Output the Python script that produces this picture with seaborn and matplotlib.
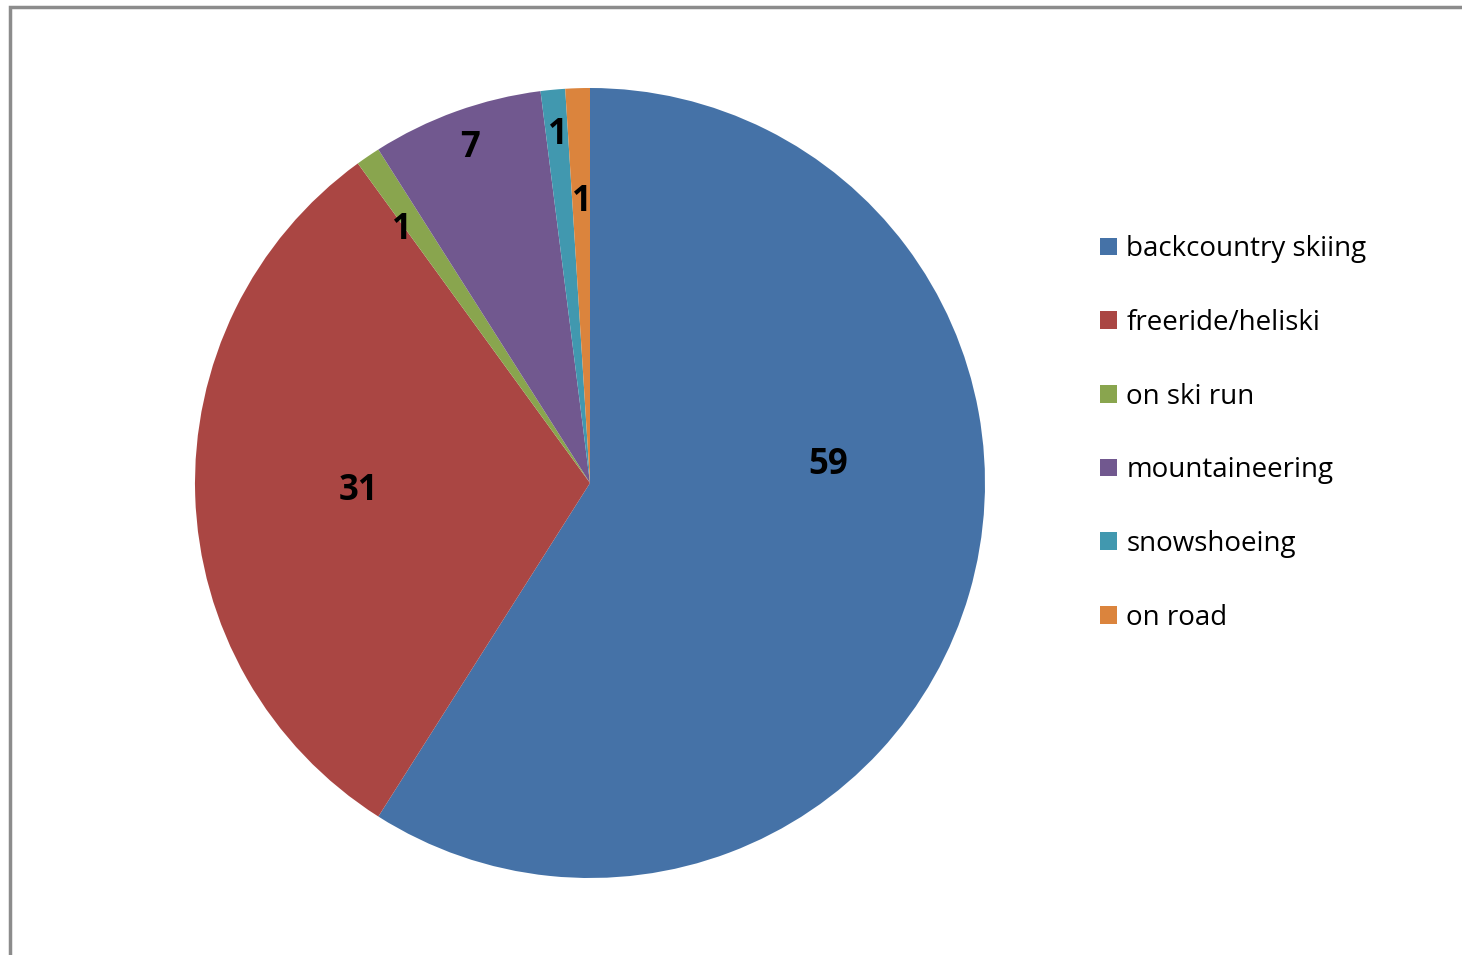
"""Pie chart of avalanche accidents by activity."""

import matplotlib
matplotlib.use("Agg")
import matplotlib.pyplot as plt
from matplotlib.patches import Patch, Rectangle
import seaborn as sns

sns.set_theme(style="white")
plt.rcParams["font.family"] = ["Open Sans", "DejaVu Sans"]

activities = ["backcountry skiing", "freeride/heliski", "on ski run",
              "mountaineering", "snowshoeing", "on road"]
counts = [59, 31, 1, 7, 1, 1]
colors = ["#4572A7", "#AA4643", "#89A54E", "#71588F", "#4198AF", "#DB843D"]
# label anchor points, as fractions of the radius (x, y) from centre
label_pos = [(0.603, 0.045), (-0.587, -0.021), (-0.476, 0.640),
             (-0.304, 0.847), (-0.081, 0.880), (-0.020, 0.711)]

W, H = 1462, 955
fig = plt.figure(figsize=(W / 100, H / 100), dpi=100)
fig.patch.set_facecolor("white")

# outer chart frame (Excel style), runs off the right and bottom edges
fig.patches.append(Rectangle((10 / W, -0.1), 1.2, (H - 7) / H + 0.1,
                             transform=fig.transFigure, fill=False,
                             edgecolor="#8c8c8c", linewidth=2.5))

cx, cy, r = 590, 483, 395
ax = fig.add_axes([(cx - r) / W, (H - cy - r) / H, 2 * r / W, 2 * r / H])
wedges, _ = ax.pie(counts, colors=colors, startangle=90, counterclock=False,
                   radius=1, wedgeprops=dict(linewidth=0))
ax.set_xlim(-1, 1)
ax.set_ylim(-1, 1)
ax.set_aspect("equal")
ax.axis("off")

for n, (lx, ly) in zip(counts, label_pos):
    ax.text(lx, ly, str(n), ha="center", va="center", fontsize=25,
            fontweight="bold", color="black")

handles = [Patch(facecolor=c, edgecolor="none") for c in colors]
fig.legend(handles, activities, loc="upper left",
           bbox_to_anchor=(1089 / W, 1 - 224 / H), frameon=False,
           fontsize=20, labelcolor="black", handlelength=0.6,
           handleheight=0.6, handletextpad=0.35, labelspacing=1.645,
           borderaxespad=0)

fig.savefig("out.png", dpi=100, facecolor="white")
